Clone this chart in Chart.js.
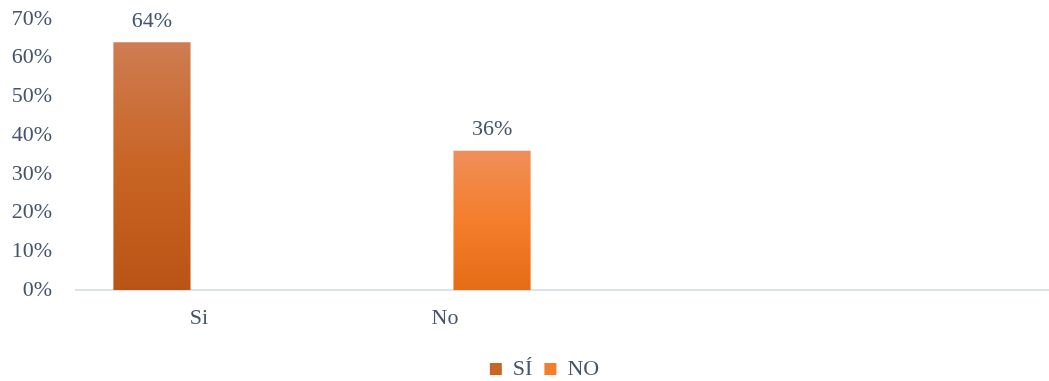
<!DOCTYPE html>
<html>
<head>
<meta charset="utf-8">
<script src="https://cdn.jsdelivr.net/npm/chart.js@4/dist/chart.umd.min.js"></script>
<style>
  html, body { margin: 0; padding: 0; background: #fff; overflow: hidden; }
  #crop { width: 1049px; height: 381px; overflow: hidden; position: relative; }
  #wrap { width: 1089px; height: 381px; position: relative; }
</style>
</head>
<body>
<div id="crop"><div id="wrap"><canvas id="myChart"></canvas></div></div>
<script>
// categorias y valores
const categories = ["Si", "No", "", ""];
const siValues = [64, null, null, null];
const noValues = [null, 36, null, null];
const yTicks = [0, 10, 20, 30, 40, 50, 60, 70];

const textColor = '#44546A';
const fontFamily = "'Liberation Serif', 'Times New Roman', serif";
const fontSize = 22;

// colores del degradado (arriba, medio, abajo)
const siColors = ['rgb(206,124,82)', 'rgb(200,100,36)', 'rgb(186,84,22)'];
const noColors = ['rgb(240,142,90)', 'rgb(244,126,44)', 'rgb(230,108,22)'];

function barGradient(colors){
    return (context) => {
        const chart = context.chart;
        if (!chart.chartArea || context.parsed == null || context.parsed.y == null) {
            return colors[1];
        }
        const y = chart.scales.y;
        const top = y.getPixelForValue(context.parsed.y);
        const bottom = y.getPixelForValue(0);
        const g = chart.ctx.createLinearGradient(0, top, 0, bottom);
        g.addColorStop(0, colors[0]);
        g.addColorStop(0.5, colors[1]);
        g.addColorStop(1, colors[2]);
        return g;
    };
}

const valueLabels = {
    id: 'valueLabels',
    afterDatasetsDraw(chart){
        const ctx = chart.ctx;
        ctx.save();
        ctx.font = fontSize + "px " + fontFamily;
        ctx.fillStyle = textColor;
        ctx.textAlign = 'center';
        ctx.textBaseline = 'middle';
        chart.data.datasets.forEach((ds, i) => {
            const meta = chart.getDatasetMeta(i);
            meta.data.forEach((bar, j) => {
                const v = ds.data[j];
                if (v == null) return;
                ctx.fillText(v + '%', bar.x, bar.y - 21);
            });
        });
        ctx.restore();
    }
};

const ctx = document.getElementById('myChart');

new Chart(ctx, {
    type: 'bar',
    data: {
        labels: categories,
        datasets: [
            {
                label: 'SÍ',
                data: siValues,
                backgroundColor: barGradient(siColors),
                categoryPercentage: 0.765,
                barPercentage: 0.82
            },
            {
                label: 'NO',
                data: noValues,
                backgroundColor: barGradient(noColors),
                categoryPercentage: 0.765,
                barPercentage: 0.82
            }
        ]
    },
    options: {
        responsive: true,
        maintainAspectRatio: false,
        animation: false,
        layout: {
            padding: { top: 0, left: 0, right: 0, bottom: -9 }
        },
        plugins: {
            tooltip: { enabled: false },
            legend: {
                position: 'bottom',
                labels: {
                    color: textColor,
                    font: { family: fontFamily, size: fontSize },
                    boxWidth: 12,
                    boxHeight: 12,
                    padding: 12,
                    generateLabels(chart){
                        const solid = [siColors[1], noColors[1]];
                        return chart.data.datasets.map((ds, i) => ({
                            text: ds.label,
                            fillStyle: solid[i],
                            strokeStyle: solid[i],
                            lineWidth: 0,
                            fontColor: textColor,
                            datasetIndex: i
                        }));
                    }
                }
            }
        },
        scales: {
            x: {
                grid: { display: false, drawTicks: false },
                border: { display: true, color: '#DDE2EA', width: 2 },
                afterFit(scale){
                    scale.height = 56;
                    scale.paddingRight = 29;
                    scale.paddingLeft = 0;
                },
                ticks: {
                    color: textColor,
                    font: { family: fontFamily, size: fontSize },
                    padding: 15
                }
            },
            y: {
                min: 0,
                max: 70,
                grid: { display: false, drawTicks: false },
                border: { display: false },
                afterFit(scale){
                    scale.width = 76;
                    scale.paddingTop = 19;
                    scale.paddingBottom = 0;
                },
                afterBuildTicks(scale){
                    scale.ticks = yTicks.map(v => ({ value: v }));
                },
                ticks: {
                    color: textColor,
                    font: { family: fontFamily, size: fontSize },
                    padding: 24,
                    callback: (v) => v + '%'
                }
            }
        }
    },
    plugins: [valueLabels]
});
</script>
</body>
</html>
